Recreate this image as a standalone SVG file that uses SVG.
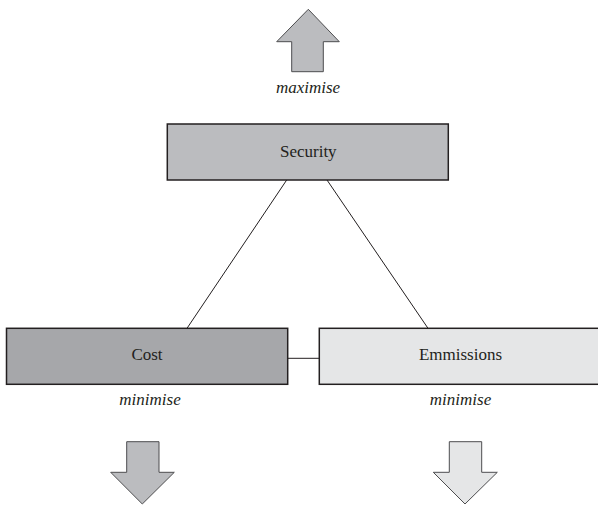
<svg xmlns="http://www.w3.org/2000/svg" width="598" height="505" viewBox="0 0 598 505">
<style>
.box{stroke:#231f20;stroke-width:1.5}
.arrow{stroke:#4d4d4f;stroke-width:1}
.lbl{font-size:17px;fill:#231f20;text-anchor:middle}
.it{font-style:italic}
.conn{stroke:#231f20;stroke-width:1;fill:none}
</style>
<rect width="598" height="505" fill="#ffffff"/>
<g id="connectors">
<line class="conn" x1="286.7" y1="180" x2="187" y2="328.3"/>
<line class="conn" x1="327" y1="180" x2="428" y2="328.3"/>
<line class="conn" x1="287.7" y1="358.3" x2="319.3" y2="358.3" stroke="#58585a" stroke-width="1.5"/>
</g>
<g font-family="Liberation Serif, DejaVu Serif, serif">
<g id="maximise-arrow">
<polygon class="arrow" fill="#bbbcbf" points="308.3,9.3 339.3,41.7 323.3,41.7 323.3,71.7 291.7,71.7 291.7,41.7 276.7,41.7"/>
<text class="lbl it" x="308" y="93">maximise</text>
</g>
<g id="security">
<rect class="box" x="167.3" y="124" width="281" height="56" fill="#bbbcbf"/>
<text class="lbl" x="308.3" y="157.3">Security</text>
</g>
<g id="cost">
<rect class="box" x="6.5" y="328.3" width="281.2" height="56" fill="#a6a7aa"/>
<text class="lbl" x="147" y="360">Cost</text>
<text class="lbl it" x="150" y="405">minimise</text>
</g>
<g id="emmissions">
<rect class="box" x="319.3" y="328.3" width="285" height="56" fill="#e5e6e7"/>
<text class="lbl" x="460.5" y="360">Emmissions</text>
<text class="lbl it" x="460.5" y="405">minimise</text>
</g>
</g>
<g id="cost-arrow">
<polygon class="arrow" fill="#bbbcbf" points="126.7,441.7 159,441.7 159,472.3 174.3,472.3 142.3,504 110.7,472.3 126.7,472.3"/>
</g>
<g id="emmissions-arrow">
<polygon class="arrow" fill="#e5e6e7" points="449.3,441.7 481.7,441.7 481.7,472.3 497.3,472.3 465,504 433.3,472.3 449.3,472.3"/>
</g>
</svg>
